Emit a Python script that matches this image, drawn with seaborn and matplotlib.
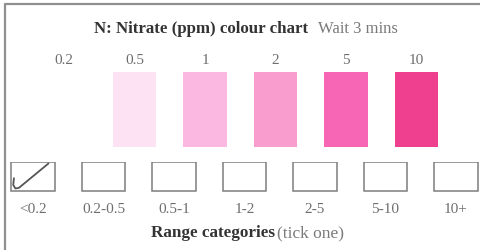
import matplotlib
matplotlib.use("Agg")
import matplotlib.pyplot as plt
import seaborn as sns
import pandas as pd

# colour chart values
levels = ["0.2", "0.5", "1", "2", "5", "10"]
swatch_colors = ["#ffffff", "#fde2f4", "#fbb8e1", "#f99dcf", "#f666b4", "#ef3f8f"]
ranges = ["<0.2", "0.2-0.5", "0.5-1", "1-2", "2-5", "5-10", "10+"]
ticked = "<0.2"

W, H = 481, 251
x0, unit = 64, 70.5  # pixel position of slot 0 and slot spacing
xlim = (-x0 / unit, (W - x0) / unit)
shift = -0.44  # boxes sit between two swatches

sns.set_theme(style="white")
plt.rcParams["font.family"] = ["Liberation Serif", "DejaVu Serif"]

fig = plt.figure(figsize=(W / 100, H / 100), dpi=100)


def band(top, bottom):
    a = fig.add_axes([0, 1 - bottom / H, 1, (bottom - top) / H])
    return a


# swatches
sw = pd.DataFrame({"pos": range(len(levels)), "level": levels, "h": 1.0})
sw = sw[sw["level"] != "0.2"]
ax_sw = band(73, 148)
sns.barplot(data=sw, x="pos", y="h", hue="level", palette=dict(zip(levels, swatch_colors)),
            native_scale=True, width=0.62, legend=False, linewidth=0, saturation=1,
            ax=ax_sw)
ax_sw.set_xlim(xlim)
ax_sw.set_ylim(0, 1)
ax_sw.axis("off")

# tick boxes
bx = pd.DataFrame({"pos": [i + shift for i in range(len(ranges))], "h": 1.0})
ax_bx = band(163, 193)
sns.barplot(data=bx, x="pos", y="h", native_scale=True, width=0.62, fill=False,
            color="#7d7d7d", linewidth=1.1, saturation=1, ax=ax_bx)
ax_bx.set_xlim(xlim)
ax_bx.set_ylim(-0.02, 1.0)
ax_bx.axis("off")

# check mark in the ticked box
k = ranges.index(ticked) + shift
ax_bx.plot([k - 0.27, k - 0.28, k - 0.25, k - 0.2, k + 0.22],
           [0.45, 0.22, 0.1, 0.12, 0.95], color="#555555", lw=1.3,
           solid_capstyle="round")

# texts and frame
ax = fig.add_axes([0, 0, 1, 1], facecolor="none")
ax.set_xlim(xlim)
ax.set_ylim(H, 0)
ax.axis("off")
fx = lambda p: xlim[0] + p / W * (xlim[1] - xlim[0])
ax.plot([fx(5), fx(5), fx(W + 5)], [H + 5, 5, 5], color="#8f8f8f", lw=1.6)

ax.text(fx(94), 29, "N: Nitrate (ppm) colour chart", fontsize=12.2, fontweight="bold",
        color="#333333", ha="left", va="center")
ax.text(fx(318), 29, "Wait 3 mins", fontsize=12, color="#7a7a7a", ha="left", va="center")

for i, lv in enumerate(levels):
    ax.text(i, 61, lv, fontsize=11, color="#6e6e6e", ha="center", va="center")
for i, r in enumerate(ranges):
    ax.text(i + shift, 210, r, fontsize=11, color="#6e6e6e", ha="center", va="center")

ax.text(fx(151), 233, "Range categories", fontsize=12.3, fontweight="bold",
        color="#333333", ha="left", va="center")
ax.text(fx(277), 233, "(tick one)", fontsize=12.5, color="#7a7a7a", ha="left", va="center")

fig.savefig("out.png", dpi=100)
